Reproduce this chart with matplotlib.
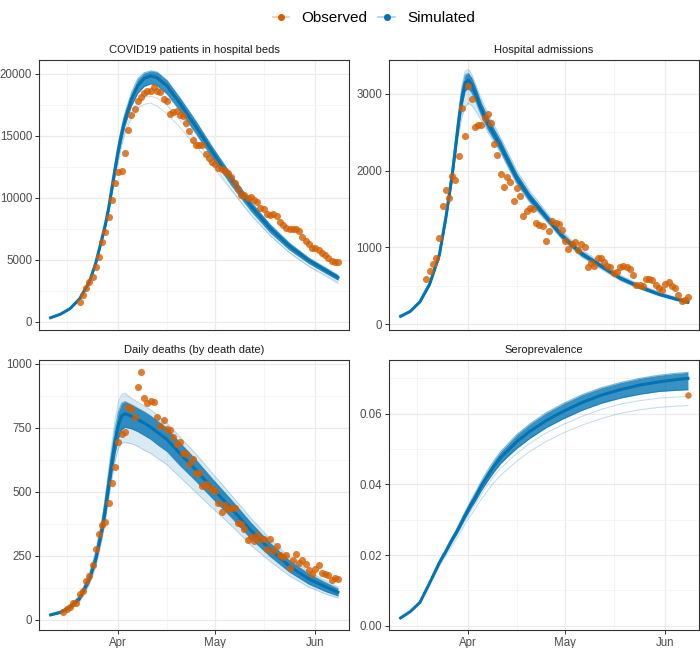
import matplotlib
matplotlib.use('Agg')
import matplotlib.pyplot as plt
import matplotlib.dates as mdates
from matplotlib.lines import Line2D
from matplotlib.ticker import MultipleLocator, FormatStrFormatter
import pandas as pd

plt.rcParams['font.family'] = ['Liberation Sans', 'DejaVu Sans']

BLUE = '#0072B2'
ORANGE = '#D55E00'

panel_titles = ['COVID19 patients in hospital beds', 'Hospital admissions',
                'Daily deaths (by death date)', 'Seroprevalence']
legend_labels = ['Observed', 'Simulated']

# dates at which the simulated runs were read off
sim_dates = ['2020-03-11', '2020-03-14', '2020-03-17', '2020-03-20', '2020-03-23', '2020-03-25',
             '2020-03-27', '2020-03-28', '2020-03-29', '2020-03-30', '2020-03-31', '2020-04-01',
             '2020-04-02', '2020-04-03', '2020-04-05', '2020-04-07', '2020-04-09', '2020-04-11',
             '2020-04-13', '2020-04-16', '2020-04-20', '2020-04-25', '2020-04-30', '2020-05-06',
             '2020-05-12', '2020-05-18', '2020-05-24', '2020-05-30', '2020-06-04', '2020-06-08']

# --- hospital beds ---
beds_obs_start = '2020-03-20'
beds_obs = [1560, 2150, 2690, 3180, 3610, 4410, 5220, 6460, 7270, 8430, 9850, 11170, 12060, 12140,
            13650, 15480, 16660, 17170, 17850, 18120, 18490, 18650, 18650, 18980, 18650, 18570,
            18010, 17790, 16740, 16900, 17010, 16690, 16580, 16040, 15420, 14670, 14270, 14240,
            14290, 13570, 13190, 12890, 12710, 12380, 12300, 12140, 11980, 11710, 11220, 10740,
            10230, 10200, 9960, 10090, 9800, 9660, 9210, 9100, 8670, 8640, 8690, 8510, 8080, 7810,
            7560, 7460, 7460, 7460, 7320, 6810, 6540, 6250, 5980, 5980, 5810, 5570, 5360, 5170,
            4930, 4820, 4840]
beds_sim_mid = [320, 600, 1050, 1850, 3200, 4750, 6800, 7900, 9200, 10800, 12400, 13900, 15200, 16300,
                17950, 19050, 19650, 19850, 19700, 19050, 17650, 15750, 13750, 11450, 9350, 7550,
                6100, 4950, 4180, 3570]
beds_sim_hi = [335, 625, 1090, 1910, 3300, 4900, 7000, 8150, 9500, 11150, 12800, 14350, 15700, 16800,
               18450, 19600, 20100, 20250, 20150, 19500, 18100, 16200, 14150, 11850, 9700, 7850,
               6350, 5150, 4380, 3760]
beds_sim_lo = [305, 575, 1010, 1790, 3100, 4600, 6600, 7650, 8900, 10450, 12000, 13450, 14700, 15800,
               17400, 18450, 19000, 19200, 19050, 18400, 17050, 15200, 13250, 11000, 8950, 7200,
               5800, 4700, 3950, 3360]
beds_sim_extra = [
    [305, 575, 1010, 1780, 3080, 4550, 6500, 7500, 8700, 10150, 11600, 12950, 14150, 15100, 16450,
     17250, 17550, 17650, 17400, 16800, 15700, 14200, 12600, 10600, 8600, 6950, 5550, 4450, 3700, 3100],
    [305, 575, 1010, 1780, 3080, 4550, 6550, 7550, 8800, 10250, 11750, 13100, 14350, 15350, 16850,
     17750, 18100, 18200, 18050, 17500, 16300, 14700, 12900, 10700, 8700, 7000, 5600, 4500, 3800, 3200],
]

# --- hospital admissions ---
adm_obs_start = '2020-03-19'
adm_obs = [583, 691, 778, 857, 1126, 1543, 1752, 1639, 1930, 1874, 2187, 2822, 2448, 3100, 2930, 2565,
           2591, 2591, 2683, 2743, 2617, 2343, 2204, 1961, 1787, 1917, 1857, 1609, 1778, 1674, 1409,
           1478, 1517, 1496, 1313, 1291, 1278, 1083, 1213, 1348, 1317, 1300, 1230, 1083, 978, 1043,
           1065, 965, 1039, 1000, 748, 800, 757, 865, 857, 804, 761, 739, 665, 674, 739, 757, 739,
           717, 635, 509, 504, 500, 583, 583, 570, 509, 465, 443, 522, 552, 496, 465, 378, 304, 313, 348]
adm_sim_mid = [100, 165, 290, 520, 900, 1380, 1950, 2300, 2650, 2950, 3150, 3180, 3120, 3020, 2800,
               2620, 2470, 2320, 2150, 1900, 1650, 1400, 1150, 920, 760, 600, 485, 390, 330, 285]
adm_sim_hi = [105, 172, 300, 540, 935, 1430, 2020, 2380, 2740, 3060, 3250, 3270, 3210, 3110, 2880,
              2700, 2540, 2390, 2215, 1960, 1700, 1440, 1185, 950, 785, 622, 505, 406, 344, 297]
adm_sim_lo = [95, 158, 280, 500, 865, 1330, 1880, 2220, 2560, 2840, 3040, 3070, 3020, 2930, 2720,
              2540, 2400, 2250, 2085, 1840, 1600, 1360, 1115, 890, 735, 578, 465, 374, 316, 273]
adm_sim_extra = [
    [95, 158, 280, 500, 865, 1320, 1860, 2180, 2480, 2700, 2830, 2880, 2850, 2800, 2650, 2500, 2370,
     2230, 2060, 1820, 1580, 1340, 1100, 875, 718, 566, 456, 366, 308, 266],
    [106, 175, 305, 550, 950, 1450, 2050, 2420, 2790, 3120, 3300, 3320, 3260, 3150, 2930, 2750, 2590,
     2430, 2260, 2000, 1740, 1470, 1210, 975, 805, 640, 518, 418, 355, 305],
]

# --- daily deaths ---
deaths_obs_start = '2020-03-15'
deaths_obs = [30, 43, 49, 68, 68, 100, 113, 152, 172, 215, 276, 334, 371, 381, 455, 536, 598, 693, 727,
              735, 830, 823, 793, 908, 969, 865, 845, 856, 852, 792, 758, 780, 745, 741, 715, 687, 696,
              650, 649, 609, 627, 573, 573, 523, 531, 520, 510, 505, 458, 423, 448, 433, 436, 438, 377,
              373, 354, 312, 323, 309, 330, 315, 315, 277, 315, 270, 289, 254, 247, 254, 204, 234, 258,
              221, 234, 218, 194, 178, 198, 216, 182, 178, 176, 156, 165, 160]
deaths_sim_mid = [20, 30, 50, 85, 160, 240, 360, 440, 530, 620, 700, 760, 795, 805, 795, 782, 768, 752,
                  733, 705, 650, 585, 515, 435, 350, 275, 210, 160, 130, 108]
deaths_sim_hi = [22, 33, 55, 92, 172, 258, 388, 474, 568, 664, 748, 812, 845, 852, 840, 826, 812, 796,
                 777, 748, 692, 625, 552, 468, 380, 300, 232, 180, 147, 122]
deaths_sim_lo = [18, 27, 45, 78, 148, 222, 332, 406, 492, 576, 652, 708, 742, 752, 746, 735, 720, 705,
                 685, 658, 604, 542, 476, 400, 318, 248, 187, 140, 112, 94]
deaths_sim_extra = [
    [17, 25, 41, 72, 138, 208, 318, 390, 470, 550, 620, 670, 690, 692, 688, 678, 662, 650, 632, 606,
     558, 498, 438, 368, 292, 228, 172, 128, 102, 86],
    [23, 35, 58, 97, 182, 272, 402, 490, 590, 690, 780, 850, 880, 885, 865, 850, 835, 820, 800, 770,
     715, 648, 574, 487, 398, 316, 245, 189, 155, 129],
]

# --- seroprevalence ---
sero_obs_start = '2020-06-08'
sero_obs = [0.0652]
sero_sim_mid = [0.0022, 0.0040, 0.0066, 0.0121, 0.0178, 0.0210, 0.0245, 0.0260, 0.0277, 0.0295, 0.0313,
                0.0330, 0.0347, 0.0362, 0.0396, 0.0425, 0.0452, 0.0476, 0.0494, 0.0521, 0.0550, 0.0580,
                0.0605, 0.0631, 0.0652, 0.0668, 0.0681, 0.0690, 0.0696, 0.0700]
sero_sim_hi = [0.0022, 0.0040, 0.0067, 0.0124, 0.0184, 0.0217, 0.0251, 0.0267, 0.0285, 0.0304, 0.0322,
               0.0340, 0.0358, 0.0374, 0.0409, 0.0440, 0.0468, 0.0493, 0.0512, 0.0541, 0.0571, 0.0602,
               0.0627, 0.0653, 0.0673, 0.0688, 0.0700, 0.0709, 0.0714, 0.0717]
sero_sim_lo = [0.0022, 0.0040, 0.0065, 0.0120, 0.0176, 0.0207, 0.0239, 0.0254, 0.0270, 0.0287, 0.0304,
               0.0320, 0.0336, 0.0350, 0.0382, 0.0410, 0.0436, 0.0459, 0.0477, 0.0502, 0.0530, 0.0560,
               0.0584, 0.0609, 0.0629, 0.0644, 0.0655, 0.0663, 0.0666, 0.0668]
sero_sim_extra = [
    [0.0022, 0.0040, 0.0065, 0.0118, 0.0172, 0.0202, 0.0233, 0.0248, 0.0264, 0.0280, 0.0297, 0.0312,
     0.0327, 0.0341, 0.0372, 0.0399, 0.0424, 0.0446, 0.0463, 0.0488, 0.0516, 0.0545, 0.0568, 0.0592,
     0.0612, 0.0627, 0.0637, 0.0644, 0.0647, 0.0649],
    [0.0022, 0.0040, 0.0064, 0.0116, 0.0168, 0.0197, 0.0227, 0.0241, 0.0256, 0.0272, 0.0288, 0.0302,
     0.0316, 0.0329, 0.0358, 0.0383, 0.0406, 0.0426, 0.0442, 0.0466, 0.0493, 0.0521, 0.0544, 0.0567,
     0.0586, 0.0601, 0.0611, 0.0618, 0.0621, 0.0623],
]


def style_axis(ax, ylim, major, minor, show_x, fmt=None):
    ax.set_xlim(pd.Timestamp('2020-03-07 10:00'), pd.Timestamp('2020-06-11 10:00'))
    ax.set_ylim(*ylim)
    ax.xaxis.set_major_locator(mdates.MonthLocator(bymonth=[4, 5, 6]))
    ax.xaxis.set_major_formatter(mdates.DateFormatter('%b'))
    ax.xaxis.set_minor_locator(mdates.DayLocator(bymonthday=16))
    ax.yaxis.set_major_locator(MultipleLocator(major))
    ax.yaxis.set_minor_locator(MultipleLocator(minor))
    if fmt:
        ax.yaxis.set_major_formatter(FormatStrFormatter(fmt))
    ax.grid(which='major', color='#EBEBEB', lw=0.9)
    ax.grid(which='minor', color='#F2F2F2', lw=0.5)
    ax.set_axisbelow(True)
    for s in ax.spines.values():
        s.set_color('#333333')
        s.set_linewidth(0.8)
    ax.tick_params(which='major', length=3, width=0.7, color='#333333', labelsize=8.3,
                   labelcolor='#4D4D4D', pad=2)
    ax.tick_params(which='minor', length=0)
    if not show_x:
        ax.tick_params(axis='x', which='both', length=0, labelbottom=False)


def draw_panel(ax, title, obs_start, obs, mid, hi, lo, extra, fuzzy=False, ms=26):
    d = pd.to_datetime(sim_dates)
    if fuzzy:
        # noisy runs: a pale outer envelope
        ax.fill_between(d, extra[0], extra[1], color=BLUE, alpha=0.15, lw=0)
    for e in extra:
        ax.plot(d, e, color=BLUE, lw=0.7, alpha=0.25)
    ax.fill_between(d, lo, hi, color=BLUE, alpha=0.78, lw=0)
    ax.plot(d, hi, color=BLUE, lw=0.8, alpha=0.5)
    ax.plot(d, lo, color=BLUE, lw=0.8, alpha=0.5)
    ax.plot(d, mid, color=BLUE, lw=2.2, alpha=0.95)
    od = pd.date_range(obs_start, periods=len(obs), freq='D')
    ax.scatter(od, obs, s=ms, color=ORANGE, alpha=0.8, lw=0, zorder=5)
    ax.set_title(title, fontsize=8, color='#1A1A1A', pad=5)


def main():
    fig = plt.figure(figsize=(7, 6.48), dpi=100)
    W, H = 700, 648
    def box(x0, x1, y0, y1):
        return [x0 / W, 1 - y1 / H, (x1 - x0) / W, (y1 - y0) / H]
    ax1 = fig.add_axes(box(39, 349, 60, 330))
    ax2 = fig.add_axes(box(389, 699, 60, 330))
    ax3 = fig.add_axes(box(39, 349, 360, 630))
    ax4 = fig.add_axes(box(389, 699, 360, 630))

    draw_panel(ax1, panel_titles[0], beds_obs_start, beds_obs, beds_sim_mid, beds_sim_hi,
               beds_sim_lo, beds_sim_extra)
    style_axis(ax1, (-670, 21130), 5000, 2500, False)

    draw_panel(ax2, panel_titles[1], adm_obs_start, adm_obs, adm_sim_mid, adm_sim_hi,
               adm_sim_lo, adm_sim_extra, fuzzy=True)
    style_axis(ax2, (-78, 3443), 1000, 500, False)

    draw_panel(ax3, panel_titles[2], deaths_obs_start, deaths_obs, deaths_sim_mid, deaths_sim_hi,
               deaths_sim_lo, deaths_sim_extra, fuzzy=True)
    style_axis(ax3, (-39, 1014), 250, 125, True)

    draw_panel(ax4, panel_titles[3], sero_obs_start, sero_obs, sero_sim_mid, sero_sim_hi,
               sero_sim_lo, sero_sim_extra, ms=22)
    style_axis(ax4, (-0.0012, 0.0752), 0.02, 0.01, True, '%.2f')

    handles = [
        Line2D([], [], color='#F3C9A9', lw=1.2, marker='o', markersize=4,
               markerfacecolor=ORANGE, markeredgecolor=ORANGE),
        Line2D([], [], color='#A9CDE5', lw=1.2, marker='o', markersize=4,
               markerfacecolor=BLUE, markeredgecolor=BLUE),
    ]
    fig.legend(handles, legend_labels, loc='center', bbox_to_anchor=(374 / W, 1 - 18 / H), ncol=2,
               frameon=False, fontsize=11, handlelength=1.1, handletextpad=0.8, columnspacing=0.7)
    fig.savefig('out.png', dpi=100)


if __name__ == '__main__':
    main()
